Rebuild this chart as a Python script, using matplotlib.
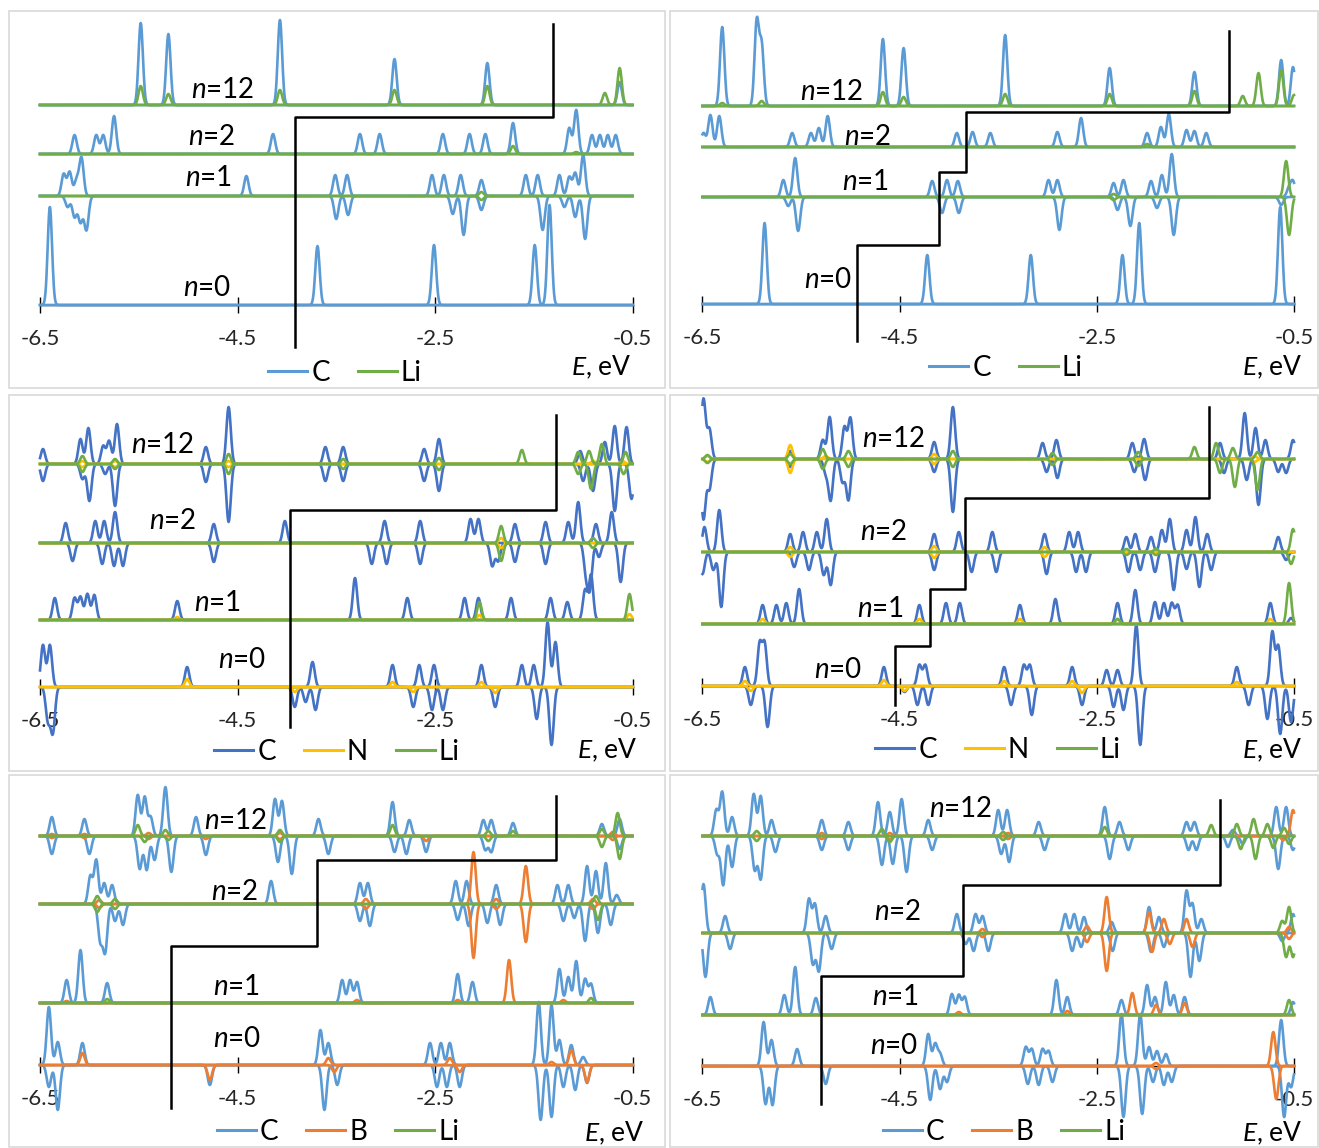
import numpy as np
import matplotlib
matplotlib.use("Agg")
import matplotlib.pyplot as plt
from matplotlib.lines import Line2D
from matplotlib.patches import Rectangle

# ── Canvas ────────────────────────────────────────────────────────────────────
W, H = 1319, 1148
plt.rcParams.update({
    "font.family": ["Lato", "DejaVu Sans"],
    "mathtext.fontset": "custom",
    "mathtext.it": "Lato:italic",
    "mathtext.rm": "Lato",
})

C_LIGHT = "#5B9BD5"
C_DARK = "#4472C4"
LI_COL = "#70AD47"
N_COL = "#FFC000"
B_COL = "#ED7D31"

E_MIN, E_MAX = -6.5, -0.5
SIGMA = 0.022                       # gaussian broadening, eV
GRID = np.linspace(E_MIN, E_MAX, 1201)
NS = [0, 1, 2, 12]
TICKS = [-6.5, -4.5, -2.5, -0.5]
TICK_LABELS = ["-6.5", "-4.5", "-2.5", "-0.5"]

# ── Data: peaks as (n, E [eV], height) — height > 0 spin up, < 0 spin down ──
# (a) top left
A_C = [
    (12, -5.48, 82), (12, -5.20, 71), (12, -4.07, 85), (12, -2.91, 46), (12, -1.97, 42), (12, -0.63, 23),
    (2, -6.15, 19), (2, -5.93, 19), (2, -5.86, 19), (2, -5.75, 38), (2, -4.14, 20), (2, -3.26, 20),
    (2, -3.06, 20), (2, -2.42, 20), (2, -2.15, 20), (2, -1.99, 20), (2, -1.71, 31), (2, -1.14, 26),
    (2, -1.07, 44), (2, -0.91, 19), (2, -0.83, 19), (2, -0.75, 19), (2, -0.67, 19),
    (1, -6.26, 22), (1, -6.20, 24), (1, -6.13, 16), (1, -6.08, 38), (1, -4.41, 20), (1, -3.51, 21),
    (1, -3.39, 21), (1, -2.53, 21), (1, -2.41, 21), (1, -2.24, 21), (1, -2.03, 16), (1, -1.58, 21),
    (1, -1.46, 21), (1, -1.24, 21), (1, -1.14, 19), (1, -1.08, 23), (1, -1.00, 41),
    (1, -6.22, -11), (1, -6.15, -21), (1, -6.09, -26), (1, -6.03, -34), (1, -3.50, -23), (1, -3.38, -19),
    (1, -2.32, -18), (1, -2.21, -39), (1, -2.03, -14), (1, -1.41, -34), (1, -1.19, -11), (1, -1.08, -21),
    (1, -0.98, -43),
    (0, -6.40, 98), (0, -3.69, 59), (0, -2.51, 60), (0, -1.49, 60), (0, -1.34, 100),
]
A_LI = [
    (12, -5.48, 19), (12, -5.20, 11), (12, -4.07, 15), (12, -2.91, 15), (12, -1.97, 19), (12, -0.78, 12),
    (12, -0.63, 37),
    (2, -1.71, 8), (2, -1.07, 2),
    (1, -2.03, 4), (1, -2.03, -4),
]
A_OFFSETS = {0: 0, 1: 109, 2: 151, 12: 200}
A_STEP_E = [-3.92, -3.92, -1.31, -1.31]
A_STEP_Y = [-42, 188, 188, 281]
A_LABELS = [(12, -4.65, 215), (2, -4.76, 168), (1, -4.79, 127), (0, -4.81, 17)]

# (b) top right
B_C = [
    (12, -6.30, 79), (12, -5.95, 84), (12, -5.90, 60), (12, -4.67, 67), (12, -4.46, 58), (12, -3.43, 71),
    (12, -2.37, 38), (12, -1.51, 34), (12, -0.63, 46), (12, -0.51, 39),
    (2, -6.49, 14), (2, -6.42, 32), (2, -6.33, 31), (2, -5.59, 14), (2, -5.40, 14), (2, -5.32, 19),
    (2, -5.23, 31), (2, -3.92, 14), (2, -3.76, 15), (2, -3.58, 14), (2, -2.90, 15), (2, -2.66, 29),
    (2, -1.99, 14), (2, -1.85, 20), (2, -1.77, 33), (2, -1.59, 17), (2, -1.51, 16), (2, -1.39, 14),
    (1, -5.68, 17), (1, -5.56, 39), (1, -4.17, 16), (1, -4.02, 17), (1, -3.91, 16), (1, -2.99, 17),
    (1, -2.90, 17), (1, -2.33, 14), (1, -2.23, 17), (1, -1.95, 16), (1, -1.84, 22), (1, -1.74, 43),
    (1, -0.55, 9), (1, -0.51, 15),
    (1, -5.63, -9), (1, -5.53, -34), (1, -4.07, -16), (1, -3.90, -16), (1, -2.88, -33), (1, -2.29, -13),
    (1, -2.16, -29), (1, -1.89, -11), (1, -1.72, -38), (1, -0.63, -8),
    (0, -5.87, 81), (0, -4.22, 49), (0, -3.17, 49), (0, -2.24, 49), (0, -2.07, 81), (0, -0.64, 97),
]
B_LI = [
    (12, -6.30, 3), (12, -5.90, 5), (12, -4.67, 14), (12, -4.46, 9), (12, -3.43, 12), (12, -2.37, 12),
    (12, -1.51, 15), (12, -1.02, 10), (12, -0.86, 33), (12, -0.63, 36), (12, -0.50, 11),
    (2, -1.99, 3),
    (1, -2.33, 3), (1, -2.33, -3), (1, -0.58, 36), (1, -0.55, -38),
]
B_OFFSETS = {0: 0, 1: 107, 2: 157, 12: 198}
B_STEP_E = [-4.93, -4.93, -4.10, -4.10, -3.83, -3.83, -1.16, -1.16]
B_STEP_Y = [-37, 59, 59, 132, 132, 192, 192, 273]
B_LABELS = [(12, -5.19, 212), (2, -4.82, 167), (1, -4.85, 122), (0, -5.23, 24)]

# (c) middle left
C_C = [
    (12, -6.47, 15), (12, -6.09, 25), (12, -6.01, 36), (12, -5.86, 18), (12, -5.80, 23), (12, -5.72, 40),
    (12, -4.82, 17), (12, -4.59, 57), (12, -3.61, 17), (12, -3.43, 17), (12, -2.61, 15), (12, -2.46, 25),
    (12, -1.03, 13), (12, -0.78, 22), (12, -0.68, 38), (12, -0.56, 37),
    (12, -6.47, -17), (12, -6.07, -15), (12, -6.00, -37), (12, -5.84, -10), (12, -5.74, -42),
    (12, -4.82, -18), (12, -4.59, -58), (12, -3.61, -17), (12, -3.43, -17), (12, -2.61, -17),
    (12, -2.46, -27), (12, -1.00, -17), (12, -0.90, -27), (12, -0.68, -47), (12, -0.51, -35),
    (2, -6.24, 20), (2, -5.94, 22), (2, -5.85, 22), (2, -5.74, 31), (2, -4.74, 19), (2, -4.02, 22),
    (2, -3.01, 22), (2, -2.65, 22), (2, -2.14, 24), (2, -2.06, 24), (2, -1.69, 19), (2, -1.38, 21),
    (2, -1.15, 21), (2, -1.05, 41), (2, -0.87, 19), (2, -0.71, 31),
    (2, -6.17, -18), (2, -5.87, -21), (2, -5.75, -23), (2, -5.66, -23), (2, -4.74, -19), (2, -3.14, -21),
    (2, -2.99, -21), (2, -2.65, -21), (2, -1.92, -23), (2, -1.86, -18), (2, -1.69, -19), (2, -1.38, -21),
    (2, -0.97, -30), (2, -0.93, -42), (2, -0.84, -14), (2, -0.62, -39),
    (1, -6.35, 22), (1, -6.15, 22), (1, -6.09, 23), (1, -6.02, 26), (1, -5.95, 25), (1, -5.11, 19),
    (1, -3.31, 42), (1, -2.78, 22), (1, -2.20, 22), (1, -2.06, 22), (1, -1.73, 22), (1, -1.33, 22),
    (1, -1.16, 18), (1, -0.98, 30), (1, -0.92, 45),
    (0, -6.47, 42), (0, -6.40, 42), (0, -5.01, 20), (0, -3.74, 25), (0, -2.93, 22), (0, -2.66, 22),
    (0, -2.51, 22), (0, -2.03, 22), (0, -1.62, 22), (0, -1.50, 22), (0, -1.36, 65), (0, -1.28, 45),
    (0, -6.42, -33), (0, -6.37, -45), (0, -3.92, -20), (0, -3.81, -15), (0, -3.71, -23), (0, -2.72, -20),
    (0, -2.53, -23), (0, -2.42, -23), (0, -1.89, -20), (0, -1.47, -32), (0, -1.32, -58),
]
C_N = [
    (12, -6.07, 3), (12, -6.07, -3), (12, -5.74, 3), (12, -5.74, -3), (12, -4.59, 3), (12, -4.59, -3),
    (12, -0.90, 3), (12, -0.60, 3),
    (2, -1.83, 5), (2, -1.83, -5),
    (1, -5.11, 3), (1, -2.05, 5), (1, -0.53, 6),
    (0, -5.01, 8), (0, -3.92, -5), (0, -2.93, 5), (0, -2.72, -5), (0, -2.03, 5), (0, -1.89, -6),
]
C_LI = [
    (12, -6.07, 8), (12, -6.07, -8), (12, -5.74, 5), (12, -5.74, -5), (12, -4.59, 10), (12, -4.59, -10),
    (12, -3.43, 5), (12, -3.43, -5), (12, -2.46, 6), (12, -2.46, -6), (12, -1.62, 14), (12, -1.05, 12),
    (12, -0.94, 13), (12, -0.81, 20), (12, -0.57, 12), (12, -1.05, -10), (12, -0.92, -25), (12, -0.59, -10),
    (2, -1.83, 17), (2, -1.83, -18), (2, -0.90, 5), (2, -0.90, -5),
    (1, -2.05, 18), (1, -0.53, 26),
]
C_OFFSETS = {0: 0, 1: 67, 2: 144, 12: 223}
C_STEP_E = [-3.97, -3.97, -1.27, -1.27]
C_STEP_Y = [-40, 177, 177, 272]
C_LABELS = [(12, -5.26, 242), (2, -5.16, 166), (1, -4.70, 84), (0, -4.45, 27)]

# (d) middle right
D_C = [
    (12, -6.49, 60), (12, -6.43, 30), (12, -5.61, 8), (12, -5.28, 19), (12, -5.21, 42), (12, -5.06, 32),
    (12, -5.00, 41), (12, -4.15, 17), (12, -3.96, 52), (12, -3.05, 16), (12, -2.91, 19), (12, -2.14, 16),
    (12, -2.02, 20), (12, -1.25, 16), (12, -1.00, 46), (12, -0.89, 31), (12, -0.79, 19), (12, -0.51, 19),
    (12, -6.49, -60), (12, -6.43, -30), (12, -5.61, -8), (12, -5.25, -14), (12, -5.20, -41),
    (12, -5.08, -23), (12, -5.02, -41), (12, -4.15, -13), (12, -3.96, -53), (12, -3.01, -13),
    (12, -2.90, -19), (12, -2.12, -13), (12, -2.01, -21), (12, -1.21, -14), (12, -0.98, -21),
    (12, -0.86, -46), (12, -0.66, -13), (12, -0.58, -14),
    (2, -6.48, 25), (2, -6.33, 42), (2, -5.61, 18), (2, -5.48, 20), (2, -5.34, 20), (2, -5.24, 33),
    (2, -4.15, 18), (2, -3.90, 20), (2, -3.56, 20), (2, -3.03, 18), (2, -2.78, 20), (2, -2.69, 20),
    (2, -2.20, 15), (2, -2.11, 18), (2, -1.95, 15), (2, -1.84, 22), (2, -1.76, 33), (2, -1.59, 22),
    (2, -1.50, 35), (2, -1.38, 18), (2, -0.66, 15),
    (2, -6.50, -22), (2, -6.39, -18), (2, -6.31, -55), (2, -5.57, -15), (2, -5.42, -18), (2, -5.27, -23),
    (2, -5.20, -33), (2, -4.15, -18), (2, -3.77, -20), (2, -3.52, -20), (2, -3.01, -22), (2, -2.71, -20),
    (2, -2.61, -20), (2, -2.18, -20), (2, -2.06, -18), (2, -1.91, -20), (2, -1.72, -38), (2, -1.59, -17),
    (2, -1.46, -35), (2, -1.34, -18), (2, -0.58, -8),
    (1, -5.89, 19), (1, -5.75, 19), (1, -5.65, 21), (1, -5.52, 35), (1, -4.30, 19), (1, -4.03, 21),
    (1, -3.89, 21), (1, -3.28, 19), (1, -2.92, 25), (1, -2.29, 21), (1, -2.11, 34), (1, -1.91, 22),
    (1, -1.82, 21), (1, -1.74, 21), (1, -1.68, 19), (1, -0.74, 21), (1, -0.53, 6),
    (0, -6.07, 19), (0, -5.92, 42), (0, -5.87, 42), (0, -4.66, 19), (0, -4.30, 21), (0, -4.24, 21),
    (0, -3.44, 19), (0, -3.24, 21), (0, -3.18, 21), (0, -2.75, 19), (0, -2.40, 16), (0, -2.29, 16),
    (0, -2.10, 61), (0, -1.08, 19), (0, -0.72, 54), (0, -0.66, 40),
    (0, -6.01, -19), (0, -5.84, -41), (0, -4.45, -6), (0, -4.32, -19), (0, -4.21, -19), (0, -3.37, -19),
    (0, -3.16, -29), (0, -2.65, -19), (0, -2.33, -21), (0, -2.23, -24), (0, -2.06, -59), (0, -0.96, -19),
    (0, -0.77, -33), (0, -0.64, -48), (0, -0.53, -36),
]
D_N = [
    (12, -6.45, 3), (12, -6.45, -3), (12, -5.61, 14), (12, -5.61, -14), (12, -5.25, 3), (12, -4.15, 5),
    (12, -4.15, -5), (12, -0.90, 3), (12, -0.90, -3),
    (2, -5.61, 5), (2, -5.61, -5), (2, -4.15, 6), (2, -4.15, -6), (2, -3.03, 5), (2, -3.03, -5),
    (1, -5.89, 5), (1, -4.30, 5), (1, -3.28, 5), (1, -2.29, 5), (1, -0.74, 5),
    (0, -6.07, 5), (0, -6.01, -5), (0, -4.66, 6), (0, -4.45, -5), (0, -3.44, 5), (0, -2.75, 5),
    (0, -2.65, -7), (0, -1.08, 4),
]
D_LI = [
    (12, -6.45, 4), (12, -6.45, -4), (12, -5.61, 5), (12, -5.61, -5), (12, -5.28, 10), (12, -5.28, -10),
    (12, -5.02, 8), (12, -5.02, -8), (12, -3.96, 8), (12, -3.96, -8), (12, -2.95, 6), (12, -2.95, -6),
    (12, -2.08, 7), (12, -2.08, -7), (12, -1.51, 12), (12, -1.29, 16), (12, -1.12, 11), (12, -0.87, 7),
    (12, -1.25, -14), (12, -1.10, -28), (12, -0.87, -31),
    (2, -2.20, 3), (2, -2.20, -3), (2, -1.90, 3), (2, -1.90, -3), (2, -0.51, 23), (2, -0.53, -12),
    (1, -2.29, 5), (1, -0.55, 41),
]
D_OFFSETS = {0: 0, 1: 62, 2: 134, 12: 227}
D_STEP_E = [-4.55, -4.55, -4.19, -4.19, -3.84, -3.84, -1.36, -1.36]
D_STEP_Y = [-19, 40, 40, 97, 97, 188, 188, 279]
D_LABELS = [(12, -4.56, 247), (2, -4.66, 154), (1, -4.69, 77), (0, -5.13, 16)]

# (e) bottom left
E_C = [
    (12, -6.38, 19), (12, -6.05, 17), (12, -5.51, 41), (12, -5.44, 39), (12, -5.38, 19), (12, -5.23, 49),
    (12, -4.92, 19), (12, -4.12, 37), (12, -4.05, 35), (12, -3.68, 17), (12, -2.93, 34), (12, -2.76, 16),
    (12, -2.01, 16), (12, -1.93, 16), (12, -1.71, 13), (12, -0.81, 12), (12, -0.63, 17),
    (12, -6.38, -18), (12, -6.00, -18), (12, -5.49, -33), (12, -5.42, -34), (12, -5.34, -24),
    (12, -5.17, -36), (12, -4.82, -19), (12, -4.09, -26), (12, -3.95, -38), (12, -3.58, -18),
    (12, -2.91, -16), (12, -2.79, -18), (12, -2.59, -16), (12, -1.99, -14), (12, -1.93, -16),
    (12, -0.63, -13),
    (2, -5.99, 28), (2, -5.93, 44), (2, -5.85, 21), (2, -5.77, 19), (2, -4.16, 23), (2, -3.26, 21),
    (2, -3.18, 21), (2, -2.29, 23), (2, -2.18, 23), (2, -1.88, 19), (2, -1.26, 19), (2, -1.15, 19),
    (2, -0.96, 38), (2, -0.87, 33), (2, -0.77, 41), (2, -0.66, 9),
    (2, -5.89, -36), (2, -5.84, -47), (2, -5.74, -17), (2, -5.66, -21), (2, -3.26, -17), (2, -3.16, -22),
    (2, -2.27, -16), (2, -2.16, -22), (2, -1.97, -19), (2, -1.84, -21), (2, -1.20, -17), (2, -1.09, -14),
    (2, -0.98, -37), (2, -0.85, -29), (2, -0.72, -21),
    (1, -6.23, 23), (1, -6.09, 53), (1, -5.82, 20), (1, -3.44, 23), (1, -3.36, 23), (1, -3.29, 21),
    (1, -2.27, 29), (1, -2.12, 21), (1, -1.24, 34), (1, -1.15, 26), (1, -1.07, 42), (1, -0.98, 24),
    (1, -0.92, 19),
    (0, -6.41, 58), (0, -6.32, 23), (0, -6.07, 22), (0, -3.66, 35), (0, -3.58, 22), (0, -2.55, 22),
    (0, -2.44, 22), (0, -2.35, 22), (0, -1.45, 63), (0, -1.32, 60), (0, -1.24, 25), (0, -1.12, 20),
    (0, -1.00, 8),
    (0, -6.41, -22), (0, -6.32, -45), (0, -4.78, -20), (0, -3.62, -45), (0, -3.49, -20), (0, -2.48, -22),
    (0, -2.38, -22), (0, -2.25, -22), (0, -1.43, -55), (0, -1.32, -52), (0, -1.20, -22), (0, -1.08, -25),
    (0, -0.96, -18),
]
E_B = [
    (12, -6.38, 2), (12, -6.38, -2), (12, -6.05, 2), (12, -6.05, -2), (12, -5.40, 3), (12, -5.40, -3),
    (12, -4.82, -3), (12, -4.07, 3), (12, -4.07, -3), (12, -2.59, -5), (12, -0.70, 4), (12, -0.70, -4),
    (2, -5.90, 4), (2, -5.90, -4), (2, -3.20, 5), (2, -3.20, -5), (2, -2.11, 52), (2, -2.11, -54),
    (2, -1.88, 5), (2, -1.88, -5), (2, -1.58, 38), (2, -1.58, -38), (2, -0.90, 5), (2, -0.90, -5),
    (1, -6.23, 2), (1, -3.29, 3), (1, -2.27, 3), (1, -1.75, 43), (1, -1.20, 3),
    (0, -6.07, 12), (0, -4.78, -15), (0, -3.58, 7), (0, -3.52, -7), (0, -2.35, 7), (0, -2.25, -7),
    (0, -1.32, 3), (0, -1.12, 15), (0, -0.96, -17),
]
E_LI = [
    (12, -5.51, 11), (12, -5.23, 6), (12, -5.44, -6), (12, -5.20, -4), (12, -4.07, 6), (12, -4.07, -6),
    (12, -2.93, 11), (12, -1.96, 5), (12, -1.96, -5), (12, -1.71, 5), (12, -0.81, 7), (12, -0.81, -11),
    (12, -0.65, 23), (12, -0.63, -23),
    (2, -5.92, 8), (2, -5.92, -8), (2, -5.74, 5), (2, -5.74, -5), (2, -0.87, 8), (2, -0.85, -16),
    (1, -5.82, 4), (1, -0.92, 5),
]
E_OFFSETS = {0: 0, 1: 62, 2: 161, 12: 229}
E_STEP_E = [-5.17, -5.17, -3.69, -3.69, -1.27, -1.27]
E_STEP_Y = [-43, 119, 119, 205, 205, 269]
E_LABELS = [(12, -4.52, 244), (2, -4.53, 173), (1, -4.51, 78), (0, -4.50, 26)]

# (f) bottom right
F_C = [
    (12, -6.36, 26), (12, -6.30, 44), (12, -6.20, 19), (12, -5.98, 42), (12, -5.91, 40), (12, -5.80, 16),
    (12, -5.29, 16), (12, -5.02, 14), (12, -4.72, 34), (12, -4.60, 24), (12, -4.48, 37), (12, -4.21, 16),
    (12, -3.50, 26), (12, -3.41, 26), (12, -3.09, 14), (12, -2.42, 29), (12, -2.27, 14), (12, -1.59, 14),
    (12, -1.51, 14), (12, -1.12, 6), (12, -0.68, 29), (12, -0.58, 29),
    (12, -6.35, -18), (12, -6.29, -49), (12, -6.20, -31), (12, -5.97, -34), (12, -5.91, -43),
    (12, -5.76, -16), (12, -5.29, -14), (12, -5.02, -14), (12, -4.68, -29), (12, -4.57, -28),
    (12, -4.43, -36), (12, -4.17, -14), (12, -3.47, -18), (12, -3.39, -26), (12, -3.03, -14),
    (12, -2.37, -23), (12, -2.18, -14), (12, -1.57, -14), (12, -1.49, -14), (12, -1.17, -11),
    (12, -1.02, -8), (12, -0.66, -33), (12, -0.51, -14),
    (2, -6.49, 49), (2, -6.27, 17), (2, -5.42, 34), (2, -5.36, 29), (2, -5.25, 17), (2, -3.92, 19),
    (2, -3.73, 19), (2, -3.66, 17), (2, -2.82, 19), (2, -2.73, 19), (2, -2.63, 16), (2, -2.35, 11),
    (2, -1.97, 26), (2, -1.87, 16), (2, -1.59, 42), (2, -1.53, 29), (2, -1.44, 14), (2, -0.51, 19),
    (2, -6.47, -44), (2, -6.22, -16), (2, -5.38, -31), (2, -5.32, -38), (2, -5.19, -16), (2, -3.83, -11),
    (2, -3.75, -18), (2, -3.60, -18), (2, -2.75, -18), (2, -2.66, -14), (2, -2.34, -18), (2, -1.95, -19),
    (2, -1.82, -14), (2, -1.55, -44), (2, -1.46, -28), (2, -0.62, -8),
    (1, -6.42, 18), (1, -5.67, 20), (1, -5.56, 48), (1, -5.35, 17), (1, -3.97, 21), (1, -3.90, 20),
    (1, -3.84, 18), (1, -2.91, 35), (1, -2.80, 18), (1, -2.25, 15), (1, -1.99, 30), (1, -1.91, 18),
    (1, -1.80, 33), (1, -1.72, 20), (1, -1.61, 18), (1, -0.51, 13),
    (0, -5.88, 44), (0, -5.80, 26), (0, -5.54, 17), (0, -4.21, 32), (0, -4.14, 22), (0, -4.09, 12),
    (0, -3.22, 19), (0, -3.16, 17), (0, -3.05, 17), (0, -2.99, 15), (0, -2.25, 52), (0, -2.06, 52),
    (0, -1.97, 19), (0, -1.89, 15), (0, -1.80, 12), (0, -0.63, 46),
    (0, -5.86, -38), (0, -5.79, -39), (0, -5.25, -18), (0, -4.19, -34), (0, -4.09, -23), (0, -4.02, -16),
    (0, -3.20, -18), (0, -3.09, -19), (0, -2.95, -16), (0, -2.23, -51), (0, -2.04, -48), (0, -1.93, -16),
    (0, -1.82, -19), (0, -1.74, -16), (0, -0.60, -51), (0, -0.53, -21),
]
F_B = [
    (12, -5.29, 3), (12, -5.29, -3), (12, -4.60, 3), (12, -4.60, -3), (12, -3.40, 3), (12, -3.40, -3),
    (12, -0.51, 26), (12, -0.61, -4),
    (2, -3.66, 4), (2, -3.66, -4), (2, -2.60, 7), (2, -2.60, -9), (2, -2.40, 36), (2, -2.40, -38),
    (2, -1.97, 21), (2, -1.82, 14), (2, -1.94, -19), (2, -1.76, -11), (2, -1.59, 14), (2, -1.53, -14),
    (2, -0.55, 6), (2, -0.55, -6),
    (1, -3.90, 3), (1, -2.80, 4), (1, -2.14, 22), (1, -1.90, 10), (1, -1.61, 12),
    (0, -1.90, 3), (0, -1.90, -3), (0, -0.71, 34), (0, -0.68, -33),
]
F_LI = [
    (12, -5.95, 5), (12, -5.95, -5), (12, -4.68, 7), (12, -4.60, -6), (12, -3.45, 4), (12, -3.45, -4),
    (12, -2.42, 9), (12, -1.34, 11), (12, -1.08, 12), (12, -0.91, 17), (12, -0.77, 12), (12, -0.60, 8),
    (12, -1.04, -13), (12, -0.89, -23), (12, -0.71, -12), (12, -0.55, -8),
    (2, -0.62, 12), (2, -0.55, 26), (2, -0.58, -24), (2, -0.51, -24),
    (1, -0.55, 15),
]
F_OFFSETS = {0: 0, 1: 51, 2: 133, 12: 230}
F_STEP_E = [-5.30, -5.30, -3.86, -3.86, -1.25, -1.25]
F_STEP_Y = [-38, 90, 90, 181, 181, 266]
F_LABELS = [(12, -3.88, 257), (2, -4.52, 154), (1, -4.54, 69), (0, -4.56, 20)]

# ── Layout (pixels): panel box, x of -6.5 / -0.5, y of n=0 baseline, legend, E label
LEFT = dict(x0=40, x1=632.5)
RIGHT = dict(x0=702.5, x1=1294)
PANELS = [
    dict(box=(9, 11, 665, 388), base=305, leg=(345, 373), elab=(632, 367), **LEFT,
         series=[("C", A_C, C_LIGHT), ("Li", A_LI, LI_COL)],
         offsets=A_OFFSETS, step=(A_STEP_E, A_STEP_Y), labels=A_LABELS),
    dict(box=(670, 11, 1318, 388), base=304, leg=(1006, 368), elab=(1303, 367), **RIGHT,
         series=[("C", B_C, C_LIGHT), ("Li", B_LI, LI_COL)],
         offsets=B_OFFSETS, step=(B_STEP_E, B_STEP_Y), labels=B_LABELS),
    dict(box=(9, 395, 665, 771), base=687, leg=(337, 752), elab=(638, 750), **LEFT,
         series=[("C", C_C, C_DARK), ("N", C_N, N_COL), ("Li", C_LI, LI_COL)],
         offsets=C_OFFSETS, step=(C_STEP_E, C_STEP_Y), labels=C_LABELS),
    dict(box=(670, 395, 1318, 771), base=686, leg=(998, 750), elab=(1303, 750), **RIGHT,
         series=[("C", D_C, C_DARK), ("N", D_N, N_COL), ("Li", D_LI, LI_COL)],
         offsets=D_OFFSETS, step=(D_STEP_E, D_STEP_Y), labels=D_LABELS),
    dict(box=(9, 775, 665, 1147), base=1065, leg=(338, 1132), elab=(645, 1133), **LEFT,
         series=[("C", E_C, C_LIGHT), ("B", E_B, B_COL), ("Li", E_LI, LI_COL)],
         offsets=E_OFFSETS, step=(E_STEP_E, E_STEP_Y), labels=E_LABELS),
    dict(box=(670, 775, 1318, 1147), base=1066, leg=(1004, 1132), elab=(1303, 1133), **RIGHT,
         series=[("C", F_C, C_LIGHT), ("B", F_B, B_COL), ("Li", F_LI, LI_COL)],
         offsets=F_OFFSETS, step=(F_STEP_E, F_STEP_Y), labels=F_LABELS),
]


def dos(peaks, n, sign):
    y = np.zeros_like(GRID)
    for m, e, h in peaks:
        if m == n and np.sign(h) == sign:
            y += abs(h) * np.exp(-0.5 * ((GRID - e) / SIGMA) ** 2)
    return y


fig = plt.figure(figsize=(W / 100, H / 100), dpi=100)
fig.patch.set_facecolor("white")

for p in PANELS:
    l, t, r, b = p["box"]
    fig.add_artist(Rectangle((l / W, 1 - b / H), (r - l) / W, (b - t) / H,
                             transform=fig.transFigure, fill=False,
                             edgecolor="#d9d9d9", linewidth=1.2))
    ax = fig.add_axes([l / W, 1 - b / H, (r - l) / W, (b - t) / H])
    ax.patch.set_alpha(0)
    s = (p["x1"] - p["x0"]) / (E_MAX - E_MIN)
    ax.set_xlim(E_MIN - (p["x0"] - l) / s, E_MAX + (r - p["x1"]) / s)
    ax.set_ylim(p["base"] - b, p["base"] - t)

    for side in ("left", "right", "top"):
        ax.spines[side].set_visible(False)
    ax.spines["bottom"].set_position(("data", 0))
    ax.spines["bottom"].set_bounds(E_MIN, E_MAX)
    ax.spines["bottom"].set_color("black")
    ax.spines["bottom"].set_linewidth(1.0)
    ax.set_yticks([])
    ax.set_xticks(TICKS)
    ax.set_xticklabels(TICK_LABELS)
    ax.tick_params(axis="x", direction="inout", length=12, width=1, color="black",
                   pad=11, labelsize=16, labelcolor="#262626")

    for n in NS:
        off = p["offsets"][n]
        for name, peaks, color in p["series"]:
            if name == "Li" and n == 0:
                continue
            for sign in (-1, 1):
                ax.plot(GRID, off + sign * dos(peaks, n, sign), color=color, lw=1.9,
                        solid_joinstyle="round", zorder=3)

    se, sy = p["step"]
    ax.plot(se, sy, color="black", lw=1.8, zorder=5, clip_on=False)

    for n, e, y in p["labels"]:
        ax.text(e, y, rf"$n$={n}", ha="center", va="center", fontsize=20, zorder=6)

    handles = [Line2D([], [], color=c, lw=2.2) for _, _, c in p["series"]]
    names = [nm for nm, _, _ in p["series"]]
    lx, ly = p["leg"]
    ax.legend(handles, names, loc="center", bbox_to_anchor=(lx / W, 1 - ly / H),
              bbox_transform=fig.transFigure, ncol=len(names), frameon=False,
              fontsize=20, handlelength=1.4, handletextpad=0.15, columnspacing=1.0,
              borderpad=0, borderaxespad=0)
    ex, ey = p["elab"]
    fig.text(ex / W, 1 - ey / H, r"$E$, eV", ha="right", va="center", fontsize=19)

fig.savefig("out.png", dpi=100)
